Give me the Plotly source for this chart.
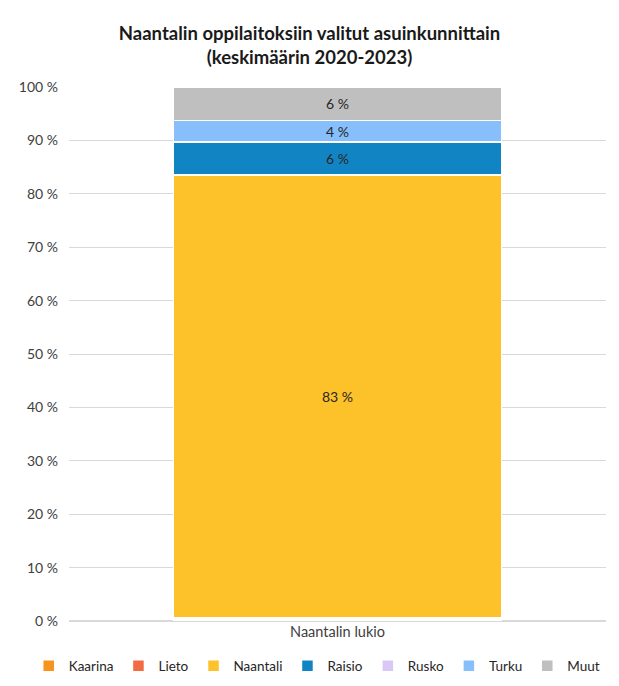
import plotly.graph_objects as go

categories = ["Naantalin lukio"]
series_names = ["Kaarina", "Lieto", "Naantali", "Raisio", "Rusko", "Turku", "Muut"]
series_values = [0.4, 0.2, 82.9, 6.2, 0.1, 3.9, 6.3]
series_labels = ["", "", "83 %", "6 %", "", "4 %", "6 %"]
colors = ["#F7941D", "#F26B43", "#FDC12A", "#1185C3", "#D9C8F5", "#86BFFC", "#BFBFBF"]
tick_values = list(range(0, 101, 10))
tick_labels = [f"{v} %" for v in tick_values]

fig = go.Figure()
for name, val, lab, col in zip(series_names, series_values, series_labels, colors):
    fig.add_trace(go.Bar(
        x=categories, y=[val], name=name,
        marker=dict(color=col, line=dict(color="white", width=1.5)),
        text=[lab], textposition="inside", insidetextanchor="middle",
        constraintext="none",
        textfont=dict(color="#262626", size=14, family="Lato"),
        textangle=0,
    ))

W, H = 603, 670
fig.update_layout(
    width=W, height=H,
    barmode="stack", bargap=0.39,
    paper_bgcolor="white", plot_bgcolor="white",
    font=dict(family="Lato", color="#262626", size=14),
    title=dict(
        text="<b>Naantalin oppilaitoksiin valitut asuinkunnittain<br>(keskimäärin 2020-2023)</b>",
        x=0.5, xanchor="center", y=1 - 32 / H, yanchor="middle",
        font=dict(size=18.5, color="#1a1a1a", family="Lato"),
    ),
    margin=dict(l=61, r=5, t=79, b=57, autoexpand=False),
    legend=dict(
        orientation="h", x=-0.075, xanchor="left", y=-0.055, yanchor="top",
        font=dict(size=13.5, color="#262626"), traceorder="normal",
    ),
    showlegend=True,
)
fig.update_yaxes(
    range=[0, 100], tickmode="array", tickvals=tick_values, ticktext=tick_labels,
    showgrid=True, gridcolor="#D9D9D9", gridwidth=1,
    zeroline=True, zerolinecolor="#D9D9D9", zerolinewidth=2,
    tickfont=dict(size=14, color="#404040"), ticks="",
    ticklabelstandoff=10,
)
fig.update_xaxes(
    tickfont=dict(size=14.5, color="#404040"), showline=False, ticks="",
)
fig.write_html("out.html")
